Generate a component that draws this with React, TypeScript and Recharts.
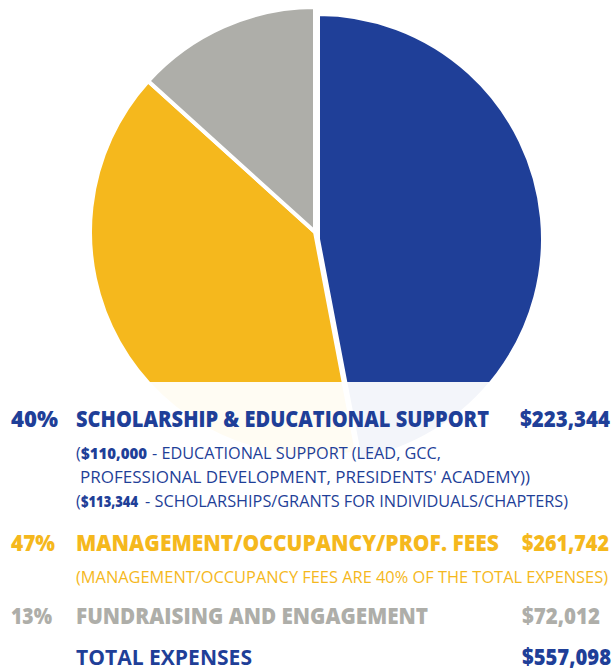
import React from 'react';
import { PieChart, Pie, Cell } from 'recharts';

// expense groups, in pie order (clockwise from 12 o'clock)
const categories = [
  'SCHOLARSHIP & EDUCATIONAL SUPPORT',
  'MANAGEMENT/OCCUPANCY/PROF. FEES',
  'FUNDRAISING AND ENGAGEMENT',
];
// slice sizes as they are drawn in the pie (percent of the circle)
const sliceShares = [47, 39.7, 13.3];
const percentLabels = ['40%', '47%', '13%'];
const amountLabels = ['$223,344', '$261,742', '$72,012'];
const totalLabel = 'TOTAL EXPENSES';
const totalAmount = '$557,098';

const BLUE = '#1f3f98';
const YELLOW = '#f5b81d';
const GRAY = '#aeaea9';
const colors = [BLUE, YELLOW, GRAY];

const pieData = categories.map((name, i) => ({ name, value: sliceShares[i] }));

const FONT = '"Open Sans", "Noto Sans", sans-serif';

function Txt({ x, y, w, size, weight, fill, children }: any) {
  return (
    <text
      x={x}
      y={y}
      fontSize={size}
      fontWeight={weight}
      fill={fill}
      fontFamily={FONT}
      textLength={w}
      lengthAdjust="spacingAndGlyphs"
    >
      {children}
    </text>
  );
}

export default function App() {
  return (
    <div style={{ position: 'absolute', left: 0, top: 0, width: 616, height: 668, background: '#fff' }}>
      <PieChart width={616} height={668} margin={{ top: 0, right: 0, bottom: 0, left: 0 }}>
        {/* yellow + gray share the main centre */}
        <Pie
          data={pieData}
          dataKey="value"
          cx={315}
          cy={232}
          outerRadius={225}
          startAngle={90}
          endAngle={-270}
          stroke="#fff"
          strokeWidth={4}
          isAnimationActive={false}
        >
          {pieData.map((d, i) => (
            <Cell key={d.name} fill={i === 0 ? 'transparent' : colors[i]} stroke={i === 0 ? 'none' : '#fff'} />
          ))}
        </Pie>
        {/* blue slice is pulled out a little */}
        <Pie
          data={pieData}
          dataKey="value"
          cx={318}
          cy={239}
          outerRadius={225}
          startAngle={90}
          endAngle={-270}
          stroke="#fff"
          strokeWidth={4}
          isAnimationActive={false}
        >
          {pieData.map((d, i) => (
            <Cell key={d.name} fill={i === 0 ? colors[0] : 'transparent'} stroke={i === 0 ? '#fff' : 'none'} />
          ))}
        </Pie>
      </PieChart>

      <svg width={616} height={668} style={{ position: 'absolute', left: 0, top: 0 }}>
        <rect x={0} y={382} width={616} height={286} fill="#fff" fillOpacity={0.95} />

        {/* row 1 */}
        <Txt x={11} y={427} w={47} size={22} weight={800} fill={BLUE}>{percentLabels[0]}</Txt>
        <Txt x={76} y={427} w={413} size={22} weight={800} fill={BLUE}>{categories[0]}</Txt>
        <Txt x={520} y={427} w={90} size={22} weight={800} fill={BLUE}>{amountLabels[0]}</Txt>

        <Txt x={76} y={459} size={16} weight={500} fill={BLUE}>(</Txt>
        <Txt x={81} y={459} w={66} size={16} weight={800} fill={BLUE}>$110,000</Txt>
        <Txt x={152} y={459} w={289} size={16} weight={500} fill={BLUE}>- EDUCATIONAL SUPPORT (LEAD, GCC,</Txt>
        <Txt x={80} y={483} w={450} size={16} weight={500} fill={BLUE}>PROFESSIONAL DEVELOPMENT, PRESIDENTS' ACADEMY))</Txt>
        <Txt x={76} y={507} size={16} weight={500} fill={BLUE}>(</Txt>
        <Txt x={81} y={507} w={57} size={16} weight={800} fill={BLUE}>$113,344</Txt>
        <Txt x={145} y={507} w={423} size={16} weight={500} fill={BLUE}>- SCHOLARSHIPS/GRANTS FOR INDIVIDUALS/CHAPTERS)</Txt>

        {/* row 2 */}
        <Txt x={11} y={551} w={44} size={22} weight={800} fill={YELLOW}>{percentLabels[1]}</Txt>
        <Txt x={76} y={551} w={423} size={22} weight={800} fill={YELLOW}>{categories[1]}</Txt>
        <Txt x={522} y={551} w={87} size={22} weight={800} fill={YELLOW}>{amountLabels[1]}</Txt>
        <Txt x={76} y={583} w={532} size={16} weight={500} fill={YELLOW}>
          (MANAGEMENT/OCCUPANCY FEES ARE 40% OF THE TOTAL EXPENSES)
        </Txt>

        {/* row 3 */}
        <Txt x={11} y={624} w={41} size={22} weight={800} fill={GRAY}>{percentLabels[2]}</Txt>
        <Txt x={76} y={624} w={352} size={22} weight={800} fill={GRAY}>{categories[2]}</Txt>
        <Txt x={522} y={624} w={78} size={22} weight={800} fill={GRAY}>{amountLabels[2]}</Txt>

        {/* total */}
        <Txt x={76} y={665} w={176} size={22} weight={700} fill={BLUE}>{totalLabel}</Txt>
        <Txt x={522} y={665} w={89} size={22} weight={800} fill={BLUE}>{totalAmount}</Txt>
      </svg>
    </div>
  );
}
